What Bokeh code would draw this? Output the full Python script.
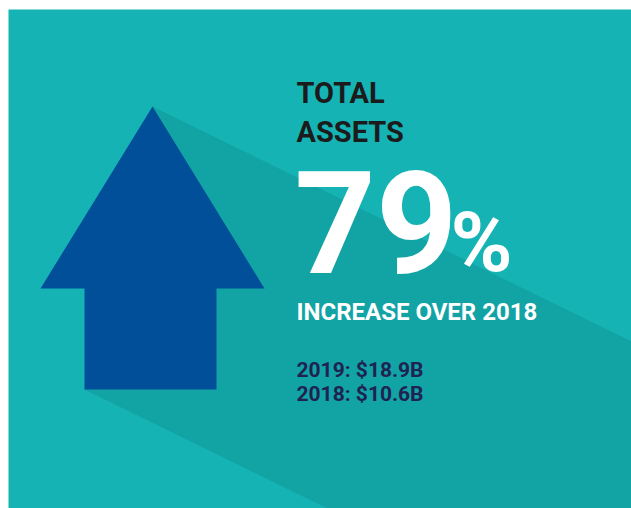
from bokeh.plotting import figure
from bokeh.models import Range1d
from bokeh.core.properties import value
from bokeh.embed import file_html
from bokeh.resources import INLINE

# ---- data ----
title_lines = ["TOTAL", "ASSETS"]
pct_value = 79
subtitle = "INCREASE OVER 2018"
years = ["2019", "2018"]
assets_bn = [18.9, 10.6]

# ---- colours ----
BG = "#16b3b5"
SHADOW = "#12a3a5"
ARROW = "#014f98"
DARK = "#1b1b1b"
NAVY = "#1f2352"
FONT = "Roboto"
BASE_SHIFT = 0.366  # svg alphabetic baseline correction (fraction of font size)

W, H = 631, 508
p = figure(width=W, height=H, output_backend="svg", toolbar_location=None,
           x_range=Range1d(0, W), y_range=Range1d(H, 0),
           min_border=0, border_fill_color="white", background_fill_color="white")
p.axis.visible = False
p.grid.visible = False
p.outline_line_color = None

# background panel
p.quad(left=8, right=W, top=9, bottom=H, fill_color=BG, line_color=None)

# long shadow of arrow
p.patch(x=[152, 631, 631, 327, 84], y=[106, 341, 508, 508, 389],
        fill_color=SHADOW, line_color=None)

# arrow
p.patch(x=[152, 264, 216, 216, 84, 84, 40],
        y=[106, 288, 288, 389, 389, 288, 288],
        fill_color=ARROW, line_color=None)


def label(x, baselines, texts, size, color):
    p.text(x=[x] * len(texts), y=[b - BASE_SHIFT * size for b in baselines],
           text=texts, text_color=color, text_font=value(FONT),
           text_font_style="bold", text_font_size=f"{size}px",
           text_baseline="alphabetic", text_align="left")


tx = 296
label(tx, [103, 142], title_lines, 29, DARK)
label(294, [273], [str(pct_value)], 142, "white")
label(450, [273], ["%"], 84, "white")
label(tx, [320], [subtitle], 24, "white")
lines = [f"{yr}:  ${v:.1f}B" for yr, v in zip(years, assets_bn)]
label(tx, [377, 401], lines, 21, NAVY)

open("out.html", "w").write(file_html(p, INLINE))
